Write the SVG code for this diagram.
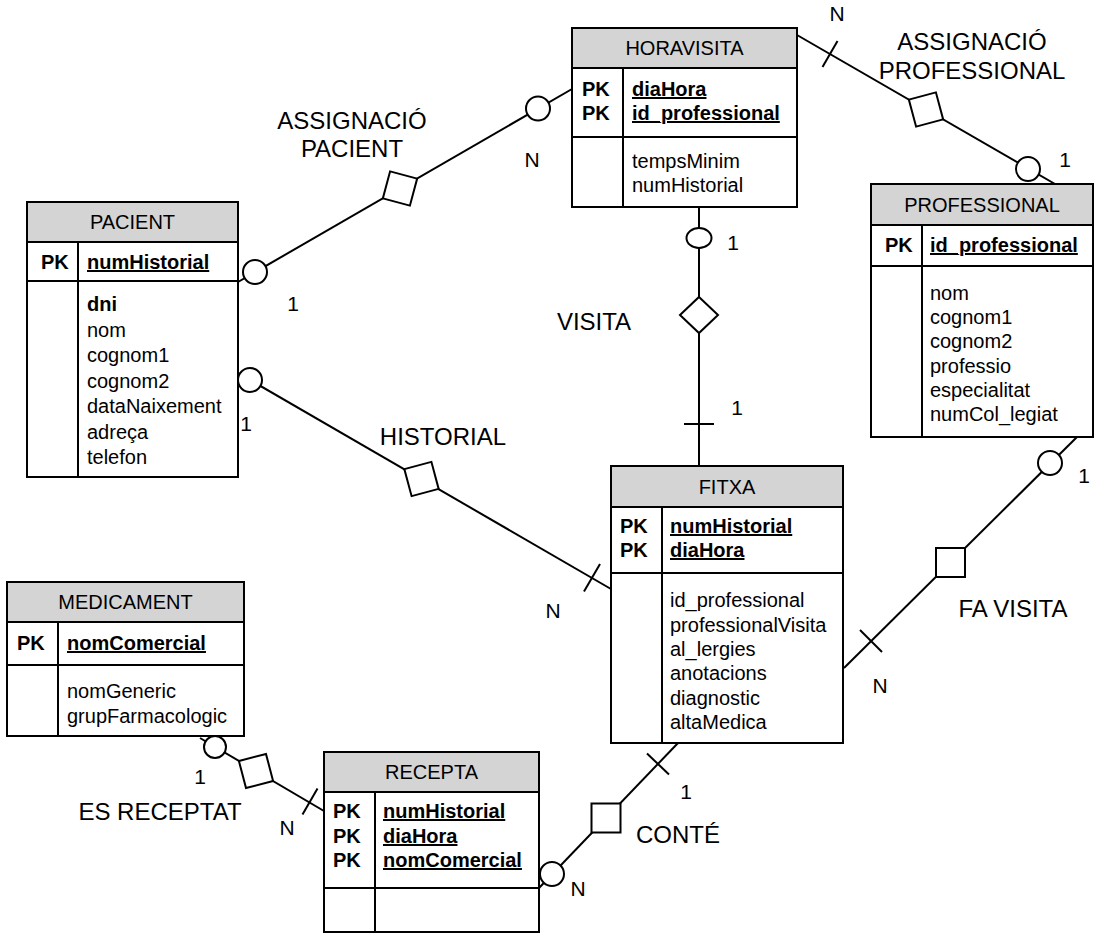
<svg xmlns="http://www.w3.org/2000/svg" width="1094" height="933" viewBox="0 0 1094 933">
<style>
.box{fill:#fff;stroke:#000;stroke-width:2}
.hdr{fill:#d4d4d4;stroke:#000;stroke-width:2}
.ln{stroke:#000;stroke-width:2;fill:none}
.dec{fill:#fff;stroke:#000;stroke-width:2}
text{font-family:"Liberation Sans",Arial,sans-serif;font-size:20px;fill:#000}
.b{font-weight:bold}
.u{font-weight:bold;text-decoration:underline}
.h{text-anchor:middle}
.lbl{font-size:24px;text-anchor:middle}
.card{font-size:21px;text-anchor:middle}
</style>
<rect width="1094" height="933" fill="#fff"/>
<g id="connectors">
  <!-- ASSIGNACIO PACIENT -->
  <line class="ln" x1="238" y1="282" x2="572" y2="89"/>
  <circle class="dec" cx="255" cy="272" r="12"/>
  <rect class="dec" x="-14" y="-14" width="28" height="28" transform="translate(400,188.5) rotate(15)"/>
  <circle class="dec" cx="538" cy="108.5" r="12"/>
  <!-- ASSIGNACIO PROFESSIONAL -->
  <line class="ln" x1="797" y1="35" x2="1055" y2="184"/>
  <line class="ln" x1="822.5" y1="67" x2="837.5" y2="41"/>
  <rect class="dec" x="-14" y="-14" width="28" height="28" transform="translate(926,109.5) rotate(-15)"/>
  <circle class="dec" cx="1028" cy="169" r="12"/>
  <!-- VISITA -->
  <line class="ln" x1="699" y1="207" x2="699" y2="466"/>
  <ellipse class="dec" cx="699" cy="238" rx="12.5" ry="10"/>
  <polygon class="dec" points="699,297 718,315 699,333 680,315"/>
  <line class="ln" x1="684" y1="424" x2="714" y2="424"/>
  <!-- HISTORIAL -->
  <line class="ln" x1="238" y1="373" x2="611" y2="589"/>
  <circle class="dec" cx="250" cy="380" r="12"/>
  <rect class="dec" x="-14" y="-14" width="28" height="28" transform="translate(421.5,479) rotate(-15)"/>
  <line class="ln" x1="584" y1="591.5" x2="600" y2="564"/>
  <!-- FA VISITA -->
  <line class="ln" x1="844" y1="668" x2="1077" y2="437"/>
  <line class="ln" x1="860" y1="630" x2="882" y2="652"/>
  <rect class="dec" x="936" y="548" width="29" height="29"/>
  <circle class="dec" cx="1050" cy="463" r="12"/>
  <!-- ES RECEPTAT -->
  <line class="ln" x1="200" y1="738" x2="324" y2="811"/>
  <circle class="dec" cx="215" cy="747" r="11"/>
  <rect class="dec" x="-14" y="-14" width="28" height="28" transform="translate(256,771) rotate(-14.7)"/>
  <line class="ln" x1="302.5" y1="814.5" x2="317.5" y2="788.5"/>
  <!-- CONTE -->
  <line class="ln" x1="539" y1="888" x2="678" y2="743"/>
  <circle class="dec" cx="552" cy="874" r="12"/>
  <rect class="dec" x="591.5" y="803.5" width="29" height="29"/>
  <line class="ln" x1="647" y1="753.5" x2="669" y2="774.5"/>
</g>
<g id="labels">
  <text class="lbl" x="352" y="128.5">ASSIGNACIÓ</text>
  <text class="lbl" x="352" y="157">PACIENT</text>
  <text class="lbl" x="972" y="50">ASSIGNACIÓ</text>
  <text class="lbl" x="972" y="78.5">PROFESSIONAL</text>
  <text class="lbl" x="594" y="330">VISITA</text>
  <text class="lbl" x="443" y="445">HISTORIAL</text>
  <text class="lbl" x="1013" y="617">FA VISITA</text>
  <text class="lbl" x="160" y="820">ES RECEPTAT</text>
  <text class="lbl" x="678" y="843">CONTÉ</text>
  <text class="card" x="293" y="311">1</text>
  <text class="card" x="532" y="167">N</text>
  <text class="card" x="837" y="21">N</text>
  <text class="card" x="1065" y="167">1</text>
  <text class="card" x="733" y="250">1</text>
  <text class="card" x="737" y="415">1</text>
  <text class="card" x="246" y="431">1</text>
  <text class="card" x="553" y="618">N</text>
  <text class="card" x="1084" y="483">1</text>
  <text class="card" x="880" y="693">N</text>
  <text class="card" x="200" y="784">1</text>
  <text class="card" x="287" y="835">N</text>
  <text class="card" x="686" y="799">1</text>
  <text class="card" x="578" y="896">N</text>
</g>
<g id="horavisita">
  <rect class="box" x="572" y="28" width="225" height="179"/>
  <rect class="hdr" x="572" y="28" width="225" height="40"/>
  <line class="ln" x1="572" y1="137" x2="797" y2="137"/>
  <line class="ln" x1="623" y1="68" x2="623" y2="207"/>
  <text class="h" x="684.5" y="55">HORAVISITA</text>
  <text class="b" x="582" y="96">PK</text>
  <text class="b" x="582" y="120">PK</text>
  <text class="u" x="632" y="96">diaHora</text>
  <text class="u" x="632" y="120">id_professional</text>
  <text x="632" y="168">tempsMinim</text>
  <text x="632" y="192">numHistorial</text>
</g>
<g id="pacient">
  <rect class="box" x="27" y="202" width="211" height="275"/>
  <rect class="hdr" x="27" y="202" width="211" height="40"/>
  <line class="ln" x1="27" y1="281" x2="238" y2="281"/>
  <line class="ln" x1="78" y1="242" x2="78" y2="477"/>
  <text class="h" x="132.5" y="229">PACIENT</text>
  <text class="b" x="41" y="269">PK</text>
  <text class="u" x="87" y="269">numHistorial</text>
  <text class="b" x="87" y="311">dni</text>
  <text x="87" y="336.5">nom</text>
  <text x="87" y="362">cognom1</text>
  <text x="87" y="387.5">cognom2</text>
  <text x="87" y="413">dataNaixement</text>
  <text x="87" y="438.5">adreça</text>
  <text x="87" y="464">telefon</text>
</g>
<g id="professional">
  <rect class="box" x="871" y="184" width="222" height="253"/>
  <rect class="hdr" x="871" y="184" width="222" height="41"/>
  <line class="ln" x1="871" y1="266" x2="1093" y2="266"/>
  <line class="ln" x1="922" y1="225" x2="922" y2="437"/>
  <text class="h" x="982" y="212">PROFESSIONAL</text>
  <text class="b" x="885" y="252">PK</text>
  <text class="u" x="930" y="252">id_professional</text>
  <text x="930" y="300">nom</text>
  <text x="930" y="324">cognom1</text>
  <text x="930" y="348">cognom2</text>
  <text x="930" y="372.5">professio</text>
  <text x="930" y="397">especialitat</text>
  <text x="930" y="421">numCol_legiat</text>
</g>
<g id="fitxa">
  <rect class="box" x="611" y="466" width="232" height="277"/>
  <rect class="hdr" x="611" y="466" width="232" height="41"/>
  <line class="ln" x1="611" y1="573" x2="843" y2="573"/>
  <line class="ln" x1="662" y1="507" x2="662" y2="743"/>
  <text class="h" x="727" y="494">FITXA</text>
  <text class="b" x="620" y="533">PK</text>
  <text class="b" x="620" y="557">PK</text>
  <text class="u" x="670" y="533">numHistorial</text>
  <text class="u" x="670" y="557">diaHora</text>
  <text x="670" y="607">id_professional</text>
  <text x="670" y="631.5">professionalVisita</text>
  <text x="670" y="656">al_lergies</text>
  <text x="670" y="680">anotacions</text>
  <text x="670" y="704.5">diagnostic</text>
  <text x="670" y="729">altaMedica</text>
</g>
<g id="medicament">
  <rect class="box" x="7" y="582" width="237" height="154"/>
  <rect class="hdr" x="7" y="582" width="237" height="40"/>
  <line class="ln" x1="7" y1="665" x2="244" y2="665"/>
  <line class="ln" x1="58" y1="622" x2="58" y2="736"/>
  <text class="h" x="125.5" y="609">MEDICAMENT</text>
  <text class="b" x="17" y="650">PK</text>
  <text class="u" x="67" y="650">nomComercial</text>
  <text x="67" y="698">nomGeneric</text>
  <text x="67" y="723">grupFarmacologic</text>
</g>
<g id="recepta">
  <rect class="box" x="324" y="752" width="215" height="180"/>
  <rect class="hdr" x="324" y="752" width="215" height="40"/>
  <line class="ln" x1="324" y1="888" x2="539" y2="888"/>
  <line class="ln" x1="375" y1="792" x2="375" y2="932"/>
  <text class="h" x="431.5" y="779">RECEPTA</text>
  <text class="b" x="333" y="818">PK</text>
  <text class="b" x="333" y="843">PK</text>
  <text class="b" x="333" y="867">PK</text>
  <text class="u" x="383" y="818">numHistorial</text>
  <text class="u" x="383" y="843">diaHora</text>
  <text class="u" x="383" y="867">nomComercial</text>
</g>
</svg>
